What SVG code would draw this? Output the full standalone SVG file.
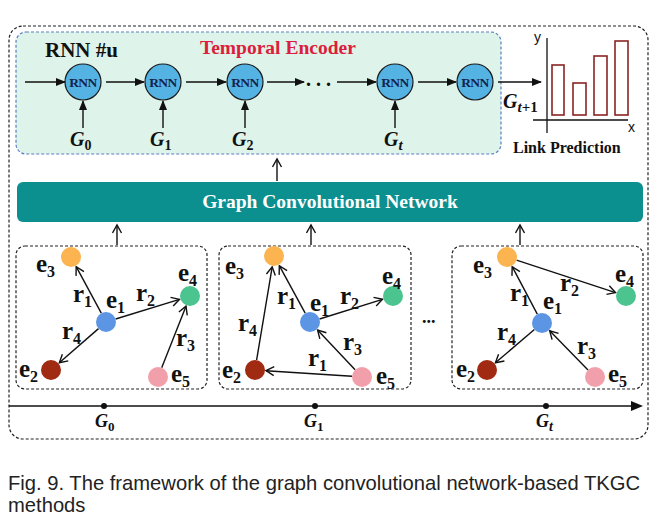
<svg xmlns="http://www.w3.org/2000/svg" width="666" height="527" viewBox="0 0 666 527">
<style>
.serif{font-family:"Liberation Serif","Times New Roman",serif;font-weight:bold}
.gi{font-family:"Liberation Serif","Times New Roman",serif;font-weight:bold;font-style:italic}
.up{font-style:normal}
.lb{font-family:"Liberation Serif","Times New Roman",serif;font-weight:bold;font-size:25px;fill:#111}
.sb{font-size:16px}
.rnn{fill:#55b3e4;stroke:#1a1a1a;stroke-width:1.2}
.rt{font-family:"Liberation Serif","Times New Roman",serif;font-weight:bold;font-size:13.5px;fill:#14234a;text-anchor:middle;letter-spacing:-0.5px}
.ln{stroke:#111;stroke-width:1.4;fill:none}
.fa{marker-end:url(#fill)}
.oa{marker-end:url(#open)}
.panel{fill:none;stroke:#222;stroke-width:1.2;stroke-dasharray:3 2}
.bar{fill:#fff;stroke:#8b2323;stroke-width:1.6}
.sans{font-family:"Liberation Sans",Arial,sans-serif}
</style>
<defs>
<marker id="fill" markerWidth="10" markerHeight="8" refX="9" refY="4" orient="auto" markerUnits="userSpaceOnUse">
<path d="M0,0 L10,4 L0,8 Z" fill="#111"/>
</marker>
<marker id="open" markerWidth="11" markerHeight="11" refX="9" refY="5.5" orient="auto" markerUnits="userSpaceOnUse">
<path d="M1,1 L9,5.5 L1,10" fill="none" stroke="#111" stroke-width="1.4"/>
</marker>
</defs>

<rect width="666" height="527" fill="#fff"/>

<!-- outer frame -->
<rect id="frame" x="9" y="26" width="639" height="413" rx="14" fill="none" stroke="#222" stroke-width="1.2" stroke-dasharray="3 2"/>

<!-- temporal encoder -->
<g id="temporal-encoder">
<rect x="16" y="32" width="485" height="122" rx="10" fill="#def3ea" stroke="#5b7fbf" stroke-width="1.2" stroke-dasharray="3 2"/>
<text class="serif" x="45" y="57" font-size="21" fill="#111">RNN #u</text>
<text class="serif" x="200" y="54" font-size="19.5" fill="#dc1e3c">Temporal Encoder</text>
</g>

<g id="rnn1"><circle class="rnn" cx="83" cy="82" r="18"/><text class="rt" x="83" y="87">RNN</text></g>
<g id="rnn2"><circle class="rnn" cx="163" cy="82" r="18"/><text class="rt" x="163" y="87">RNN</text></g>
<g id="rnn3"><circle class="rnn" cx="245" cy="82" r="18"/><text class="rt" x="245" y="87">RNN</text></g>
<g id="rnn4"><circle class="rnn" cx="395" cy="82" r="18"/><text class="rt" x="395" y="87">RNN</text></g>
<g id="rnn5"><circle class="rnn" cx="475" cy="82" r="18"/><text class="rt" x="475" y="87">RNN</text></g>

<g id="g-inputs" fill="#111">
<text class="gi" x="70" y="146" font-size="20">G<tspan class="up" font-size="14" dy="4">0</tspan></text>
<text class="gi" x="150" y="146" font-size="20">G<tspan class="up" font-size="14" dy="4">1</tspan></text>
<text class="gi" x="232" y="146" font-size="20">G<tspan class="up" font-size="14" dy="4">2</tspan></text>
<text class="gi" x="384" y="146" font-size="20">G<tspan font-size="15" dy="4">t</tspan></text>
<text class="gi" x="503" y="108" font-size="20">G<tspan font-size="15" dy="4">t</tspan><tspan class="up" font-size="15">+1</tspan></text>
<text class="serif" x="306" y="86" font-size="20" fill="#111" letter-spacing="5">...</text>
</g>

<!-- link prediction chart -->
<g id="link-prediction">
<line x1="547" y1="38" x2="547" y2="133" stroke="#111" stroke-width="1.3"/>
<line x1="533" y1="120" x2="628" y2="120" stroke="#111" stroke-width="1.3"/>
<text class="sans" x="534" y="42" font-size="14" fill="#111">y</text>
<text class="sans" x="628" y="132" font-size="14" fill="#111">x</text>
<rect class="bar" x="552" y="65" width="12" height="50"/>
<rect class="bar" x="573" y="83" width="13" height="32"/>
<rect class="bar" x="594" y="56" width="13" height="59"/>
<rect class="bar" x="615" y="41" width="13" height="74"/>
<text class="serif" x="513" y="153" font-size="16" fill="#111">Link Prediction</text>
</g>

<!-- GCN -->
<g id="gcn">
<rect x="17" y="182" width="626" height="40" rx="6" fill="#0c8f8f"/>
<text class="serif" x="330" y="208" font-size="19.5" fill="#fff" text-anchor="middle">Graph Convolutional Network</text>
</g>

<!-- graph panels -->
<g id="panel1">
<rect class="panel" x="16" y="246" width="191" height="143" rx="9"/>
<g class="ln">
<line class="oa" x1="101.3" y1="313.2" x2="76.2" y2="266.7"/>
<line class="oa" x1="115.6" y1="319" x2="179.5" y2="299.3"/>
<line class="oa" x1="98.5" y1="328.6" x2="59.3" y2="362.8"/>
<line class="oa" x1="161.7" y1="367.7" x2="186" y2="306.2"/>
</g>
<circle cx="71" cy="257" r="10" fill="#fbb450"/>
<circle cx="106" cy="322" r="10" fill="#5b95e4"/>
<circle cx="190" cy="296" r="10" fill="#4cc48f"/>
<circle cx="51" cy="370" r="10" fill="#a02a12"/>
<circle cx="158" cy="377" r="10" fill="#f29fac"/>
<text class="lb" x="36" y="272">e<tspan class="sb" dy="5">3</tspan></text>
<text class="lb" x="106" y="308">e<tspan class="sb" dy="5">1</tspan></text>
<text class="lb" x="178" y="281">e<tspan class="sb" dy="5">4</tspan></text>
<text class="lb" x="19" y="377">e<tspan class="sb" dy="5">2</tspan></text>
<text class="lb" x="171" y="382">e<tspan class="sb" dy="5">5</tspan></text>
<text class="lb" x="73" y="302">r<tspan class="sb" dy="5">1</tspan></text>
<text class="lb" x="136" y="301">r<tspan class="sb" dy="5">2</tspan></text>
<text class="lb" x="62" y="339">r<tspan class="sb" dy="5">4</tspan></text>
<text class="lb" x="176" y="346">r<tspan class="sb" dy="5">3</tspan></text>
</g>

<g id="panel2">
<rect class="panel" x="219" y="246" width="192" height="143" rx="9"/>
<g class="ln">
<line class="oa" x1="305.2" y1="313.2" x2="279.3" y2="265.7"/>
<line class="oa" x1="319.5" y1="319" x2="382.5" y2="299.3"/>
<line class="oa" x1="355.1" y1="369.7" x2="317.6" y2="330"/>
<line class="oa" x1="256.6" y1="360.1" x2="272.2" y2="266.8"/>
<line class="oa" x1="352" y1="376.3" x2="266" y2="370.7"/>
</g>
<circle cx="274" cy="256" r="10" fill="#fbb450"/>
<circle cx="310" cy="322" r="10" fill="#5b95e4"/>
<circle cx="393" cy="296" r="10" fill="#4cc48f"/>
<circle cx="255" cy="370" r="10" fill="#a02a12"/>
<circle cx="362" cy="377" r="10" fill="#f29fac"/>
<text class="lb" x="225" y="274">e<tspan class="sb" dy="5">3</tspan></text>
<text class="lb" x="310" y="311">e<tspan class="sb" dy="5">1</tspan></text>
<text class="lb" x="382" y="284">e<tspan class="sb" dy="5">4</tspan></text>
<text class="lb" x="222" y="378">e<tspan class="sb" dy="5">2</tspan></text>
<text class="lb" x="376" y="384">e<tspan class="sb" dy="5">5</tspan></text>
<text class="lb" x="277" y="304">r<tspan class="sb" dy="5">1</tspan></text>
<text class="lb" x="340" y="304">r<tspan class="sb" dy="5">2</tspan></text>
<text class="lb" x="238" y="331">r<tspan class="sb" dy="5">4</tspan></text>
<text class="lb" x="343" y="350">r<tspan class="sb" dy="5">3</tspan></text>
<text class="lb" x="308" y="366">r<tspan class="sb" dy="5">1</tspan></text>
</g>

<text class="serif" x="422" y="323" font-size="18" fill="#111">...</text>

<g id="panel3">
<rect class="panel" x="452" y="246" width="191" height="143" rx="9"/>
<g class="ln">
<line class="oa" x1="537.3" y1="314.2" x2="512.2" y2="266.7"/>
<line class="oa" x1="516.5" y1="260.1" x2="615.5" y2="292.6"/>
<line class="oa" x1="534.4" y1="329.5" x2="495.4" y2="362.8"/>
<line class="oa" x1="588" y1="369.9" x2="549.7" y2="330.8"/>
</g>
<circle cx="507" cy="257" r="10" fill="#fbb450"/>
<circle cx="542" cy="323" r="10" fill="#5b95e4"/>
<circle cx="626" cy="296" r="10" fill="#4cc48f"/>
<circle cx="487" cy="370" r="10" fill="#a02a12"/>
<circle cx="595" cy="377" r="10" fill="#f29fac"/>
<text class="lb" x="473" y="273">e<tspan class="sb" dy="5">3</tspan></text>
<text class="lb" x="543" y="309">e<tspan class="sb" dy="5">1</tspan></text>
<text class="lb" x="615" y="282">e<tspan class="sb" dy="5">4</tspan></text>
<text class="lb" x="456" y="377">e<tspan class="sb" dy="5">2</tspan></text>
<text class="lb" x="608" y="382">e<tspan class="sb" dy="5">5</tspan></text>
<text class="lb" x="510" y="301">r<tspan class="sb" dy="5">1</tspan></text>
<text class="lb" x="560" y="291">r<tspan class="sb" dy="5">2</tspan></text>
<text class="lb" x="497" y="340">r<tspan class="sb" dy="5">4</tspan></text>
<text class="lb" x="577" y="354">r<tspan class="sb" dy="5">3</tspan></text>
</g>

<!-- connectors -->
<g id="connectors" class="ln">
<line class="fa" x1="25" y1="82" x2="65" y2="82"/>
<line class="fa" x1="106" y1="82" x2="144" y2="82"/>
<line class="fa" x1="186" y1="82" x2="226" y2="82"/>
<line class="fa" x1="267" y1="82" x2="304" y2="82"/>
<line class="fa" x1="337" y1="82" x2="376" y2="82"/>
<line class="fa" x1="418" y1="82" x2="456" y2="82"/>
<line class="fa" x1="498" y1="82" x2="541" y2="82"/>
<line class="fa" x1="83" y1="128" x2="83" y2="101"/>
<line class="fa" x1="163" y1="128" x2="163" y2="101"/>
<line class="fa" x1="245" y1="128" x2="245" y2="101"/>
<line class="fa" x1="395" y1="128" x2="395" y2="101"/>
<line class="oa" x1="277" y1="181" x2="277" y2="159"/>
<line class="oa" x1="117" y1="245" x2="117" y2="225"/>
<line class="oa" x1="311" y1="245" x2="311" y2="225"/>
<line class="oa" x1="520" y1="245" x2="520" y2="225"/>
</g>

<!-- timeline -->
<g id="timeline">
<line x1="9" y1="406" x2="633" y2="406" stroke="#111" stroke-width="1.4"/>
<path d="M631,401 L643,406 L631,411 Z" fill="#111"/>
<circle cx="104" cy="406" r="3" fill="#111"/>
<circle cx="315" cy="406" r="3" fill="#111"/>
<circle cx="546" cy="406" r="3" fill="#111"/>
<text class="gi" x="95" y="427" font-size="18" fill="#111">G<tspan class="up" font-size="13" dy="4">0</tspan></text>
<text class="gi" x="304" y="427" font-size="18" fill="#111">G<tspan class="up" font-size="13" dy="4">1</tspan></text>
<text class="gi" x="536" y="427" font-size="18" fill="#111">G<tspan font-size="14" dy="4">t</tspan></text>
</g>

<g id="caption" class="sans" font-size="20.2" fill="#222">
<text x="8" y="490">Fig. 9. The framework of the graph convolutional network-based TKGC</text>
<text x="8" y="512">methods</text>
</g>
</svg>
